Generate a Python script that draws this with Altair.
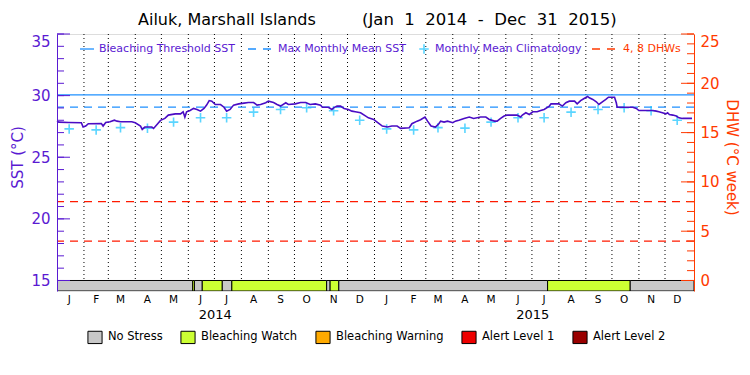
import altair as alt
import pandas as pd

# ---------------- data ----------------
TITLE_SITE = "Ailuk, Marshall Islands"
TITLE_RANGE = "(Jan 1 2014 - Dec 31 2015)"

# days since 2014-01-01 and SST (deg C)
SST_DAY = [0, 2, 13, 28, 30, 33, 36, 51, 53, 56, 61, 66, 69, 73, 86, 90, 96, 98, 101, 109,
           111, 115, 119, 124, 128, 136, 142, 145, 147, 149, 153, 157, 161, 165, 169, 172, 175,
           178, 182, 188, 192, 195, 199, 203, 209, 215, 220, 226, 230, 234, 240, 243, 249, 253,
           257, 263, 266, 274, 280, 286, 291, 297, 303, 305, 312, 316, 318, 322, 326, 330, 335,
           339, 343, 349, 355, 358, 364, 368, 374, 380, 385, 391, 395, 405, 408, 414, 418, 423,
           426, 430, 435, 439, 441, 445, 449, 455, 458, 462, 468, 474, 479, 487, 493, 497, 503,
           506, 510, 514, 518, 529, 533, 535, 539, 543, 547, 552, 556, 560, 566, 568, 577, 581,
           585, 589, 595, 598, 602, 606, 610, 612, 616, 620, 623, 627, 631, 634, 641, 643, 644,
           662, 666, 669, 685, 689, 692, 696, 700, 702, 704, 708, 712, 715, 719, 730]
SST_VAL = [27.93, 27.85, 27.82, 27.80, 27.45, 27.53, 27.72, 27.74, 27.53, 27.82, 27.88, 28.01,
           27.93, 27.88, 27.88, 27.80, 27.53, 27.26, 27.45, 27.45, 27.34, 27.66, 27.99, 28.15,
           28.42, 28.52, 28.52, 28.69, 28.26, 28.69, 28.79, 28.96, 28.88, 28.74, 28.96, 29.23,
           29.60, 29.55, 29.28, 29.28, 29.06, 28.74, 28.88, 29.23, 29.33, 29.39, 29.44, 29.44,
           29.23, 29.28, 29.42, 29.55, 29.44, 29.28, 29.15, 29.42, 29.28, 29.33, 29.44, 29.44,
           29.28, 29.33, 29.23, 29.06, 29.06, 28.88, 29.01, 29.15, 29.15, 28.96, 28.88, 28.74,
           28.69, 28.61, 28.34, 28.20, 28.07, 27.85, 27.53, 27.45, 27.53, 27.53, 27.34, 27.39,
           27.72, 27.93, 28.04, 28.26, 27.93, 27.53, 27.45, 27.72, 27.93, 27.85, 27.93, 27.80,
           27.93, 28.01, 28.15, 28.26, 28.15, 28.26, 28.26, 28.07, 27.93, 27.93, 28.15, 28.34,
           28.42, 28.42, 28.26, 28.42, 28.61, 28.47, 28.69, 28.69, 28.79, 28.88, 29.15, 29.33,
           29.33, 29.15, 29.42, 29.55, 29.55, 29.33, 29.60, 29.77, 29.93, 29.82, 29.69, 29.50,
           29.28, 29.50, 29.69, 29.87, 29.87, 29.42, 29.06, 29.06, 28.96, 28.79, 28.79, 28.74,
           28.69, 28.61, 28.52, 28.61, 28.47, 28.42, 28.34, 28.20, 28.15, 28.15]

CLIM_VAL = [27.30, 27.22, 27.40, 27.36, 27.85, 28.20, 28.20, 28.66, 28.88, 29.01, 28.77, 28.00]
YEARS = [2014, 2015]
MONTH_LETTERS = ["J", "F", "M", "A", "M", "J", "J", "A", "S", "O", "N", "D"]
THRESHOLD = 30.06
MMM = 29.06
DHW_LEVELS = [4, 8]

STRESS_START = ["2014-01-01", "2014-06-06", "2014-06-08", "2014-06-17", "2014-07-10",
                "2014-07-21", "2014-11-07", "2014-11-11", "2014-11-21", "2015-07-19",
                "2015-10-22"]
STRESS_END = ["2014-06-06", "2014-06-08", "2014-06-17", "2014-07-10", "2014-07-21",
              "2014-11-07", "2014-11-11", "2014-11-21", "2015-07-19", "2015-10-22",
              "2016-01-03T08:00:00Z"]
STRESS_LEVEL = ["No Stress", "Bleaching Watch", "No Stress", "Bleaching Watch", "No Stress",
                "Bleaching Watch", "No Stress", "Bleaching Watch", "No Stress",
                "Bleaching Watch", "No Stress"]
STRESS_CATS = ["No Stress", "Bleaching Watch", "Bleaching Warning", "Alert Level 1", "Alert Level 2"]
STRESS_COLORS = ["#c8c8c8", "#ccff33", "#ffaa00", "#ee0000", "#990000"]

SST_TICKS = [15, 20, 25, 30, 35]
DHW_TICKS = [0, 5, 10, 15, 20, 25]
LEG_TEXT = ["Bleaching Threshold SST", "Max Monthly Mean SST", "Monthly Mean Climatology", "4, 8 DHWs"]

# ---------------- styling ----------------
FONT = "DejaVu Sans"
PURPLE = "#5a1ad2"
LINE_PURPLE = "#4a0cc4"
ORANGE = "#ff3a00"
BLUE = "#1e90ff"
CYAN = "#16c4ff"
RED = "#ff1a00"
W, H = 637, 257
CROSS = "M-1,0L1,0M0,-1L0,1"
NB = "\u00a0"

base_date = pd.Timestamp("2014-01-01")
sst_df = pd.DataFrame({
    "date": [(base_date + pd.Timedelta(days=d)).strftime("%Y-%m-%d") for d in SST_DAY],
    "sst": SST_VAL,
})
clim_df = pd.DataFrame({
    "date": [f"{y}-{m + 1:02d}-15" for y in YEARS for m in range(12)],
    "v": CLIM_VAL * len(YEARS),
    "lab": MONTH_LETTERS * len(YEARS),
})
month_start_df = pd.DataFrame({
    "date": [f"{y}-{m:02d}-01" for y in YEARS for m in range(1, 13)][1:],
})
year_df = pd.DataFrame({"date": [f"{y}-07-02" for y in YEARS], "lab": [str(y) for y in YEARS]})
stress_df = pd.DataFrame({"start": STRESS_START, "end": STRESS_END, "level": STRESS_LEVEL})
ref_df = pd.DataFrame({"thr": [THRESHOLD], "mmm": [MMM]})
dhw_df = pd.DataFrame({"v": DHW_LEVELS})
sst_tick_df = pd.DataFrame({"v": list(range(15, 36))})
dhw_tick_df = pd.DataFrame({"v": list(range(0, 26))})

Y_LO = 15 - 10.5 / 12.31
D_LO = -10.5 / 9.85
xs = alt.Scale(type="utc", domain=[alt.DateTime(year=2014, month=1, date=1, utc=True),
                                   alt.DateTime(year=2016, month=1, date=3, hours=8, utc=True)])
ysst = alt.Scale(domain=[Y_LO, 35], nice=False, zero=False)
ydhw = alt.Scale(domain=[D_LO, 25], nice=False, zero=False)

X = lambda f: alt.X(f"{f}:T", scale=xs, axis=None)

month_lines = alt.Chart(month_start_df).mark_rule(color="black", strokeWidth=1, strokeDash=[1, 3]).encode(
    x=X("date"), y=alt.Y(datum=35, scale=ysst, axis=None), y2=alt.Y2(datum=15))

dhw_lines = alt.Chart(dhw_df).mark_rule(color=RED, strokeWidth=1.2, strokeDash=[8, 6]).encode(
    y=alt.Y("v:Q", scale=ydhw, axis=alt.Axis(
        orient="right", values=DHW_TICKS, ticks=False, tickSize=0, grid=False,
        domainColor=ORANGE, domainWidth=1, labelColor=ORANGE, labelFont=FONT, labelFontSize=15,
        labelPadding=6, labelFlush=True, labelFlushOffset=0,
        title="DHW (°C week)", titleColor=ORANGE, titleFont=FONT, titleFontSize=15,
        titleFontWeight="normal", titleAngle=90, titleX=37, titleY=123,
        titleAlign="center", titleBaseline="middle", zindex=1)))

thr_line = alt.Chart(ref_df).mark_rule(color=BLUE, strokeWidth=1.3).encode(
    y=alt.Y("thr:Q", scale=ysst, axis=None))
mmm_line = alt.Chart(ref_df).mark_rule(color=BLUE, strokeWidth=1.3, strokeDash=[8, 6]).encode(
    y=alt.Y("mmm:Q", scale=ysst, axis=None))

clim = alt.Chart(clim_df).mark_point(shape=CROSS, size=90, color=CYAN, strokeWidth=1.6, filled=False).encode(
    x=X("date"), y=alt.Y("v:Q", scale=ysst, axis=None))

sst_line = alt.Chart(sst_df).mark_line(color=LINE_PURPLE, strokeWidth=1.6).encode(
    x=X("date"),
    y=alt.Y("sst:Q", scale=ysst, axis=alt.Axis(
        orient="left", values=SST_TICKS, ticks=False, tickSize=0, grid=False,
        domainColor=PURPLE, domainWidth=1, labelColor=PURPLE, labelFont=FONT, labelFontSize=15,
        labelPadding=7, labelFlush=True, labelFlushOffset=0,
        title="SST (°C)", titleColor=PURPLE, titleFont=FONT, titleFontSize=15,
        titleFontWeight="normal", titleAngle=-90, titleX=-40, titleY=123,
        titleAlign="center", titleBaseline="middle", zindex=1)))

stress = alt.Chart(stress_df).mark_rect(stroke="black", strokeWidth=1, clip=True).encode(
    x=X("start"), x2="end:T",
    y=alt.Y(datum=Y_LO, scale=ysst, axis=None), y2=alt.Y2(datum=15),
    color=alt.Color("level:N", scale=alt.Scale(domain=STRESS_CATS, range=STRESS_COLORS),
                    legend=alt.Legend(orient="none", legendX=30, legendY=295, direction="horizontal",
                                      title=None, symbolType="M-1,-0.87H1V0.87H-1Z", symbolSize=200,
                                      symbolStrokeColor="black", symbolStrokeWidth=1,
                                      labelFont=FONT, labelFontSize=11.5, labelColor="black",
                                      columnPadding=15, labelOffset=5, padding=0, labelLimit=300)))

sst_minor = alt.Chart(sst_tick_df).mark_rule(color=PURPLE, strokeWidth=1).encode(
    y=alt.Y("v:Q", scale=ysst, axis=None), x=alt.value(0), x2=alt.value(7))
sst_major = alt.Chart(pd.DataFrame({"v": SST_TICKS})).mark_rule(color=PURPLE, strokeWidth=1).encode(
    y=alt.Y("v:Q", scale=ysst, axis=None), x=alt.value(0), x2=alt.value(13))
dhw_minor = alt.Chart(dhw_tick_df).mark_rule(color=ORANGE, strokeWidth=1).encode(
    y=alt.Y("v:Q", scale=ydhw, axis=None), x=alt.value(W - 7), x2=alt.value(W))
dhw_major = alt.Chart(pd.DataFrame({"v": DHW_TICKS})).mark_rule(color=ORANGE, strokeWidth=1).encode(
    y=alt.Y("v:Q", scale=ydhw, axis=None), x=alt.value(W - 13), x2=alt.value(W))

month_labels = alt.Chart(clim_df).mark_text(font=FONT, fontSize=10.5, color="black", baseline="middle").encode(
    x=X("date"), y=alt.value(266), text="lab:N")
year_labels = alt.Chart(year_df).mark_text(font=FONT, fontSize=13, color="black", baseline="middle").encode(
    x=X("date"), y=alt.value(281), text="lab:N")


def txt(s, x, y, color, size, align="left"):
    return alt.Chart(pd.DataFrame({"t": [s]})).mark_text(
        font=FONT, fontSize=size, color=color, align=align, baseline="middle").encode(
        text="t:N", x=alt.value(x), y=alt.value(y))


def seg(x1, x2, y, color, dash=None):
    kw = dict(color=color, strokeWidth=1.3)
    if dash:
        kw["strokeDash"] = dash
    return alt.Chart(pd.DataFrame({"a": [0]})).mark_rule(**kw).encode(
        x=alt.value(x1), x2=alt.value(x2), y=alt.value(y))


LY = 15
legend_top = [
    seg(23, 37, LY, BLUE),
    txt(LEG_TEXT[0], 42, LY, PURPLE, 11),
    seg(191, 214, LY, BLUE, [8, 7]),
    txt(LEG_TEXT[1], 221, LY, PURPLE, 11),
    alt.Chart(pd.DataFrame({"a": [0]})).mark_point(shape=CROSS, size=90, color=CYAN, strokeWidth=1.6).encode(
        x=alt.value(367), y=alt.value(LY)),
    txt(LEG_TEXT[2], 378, LY, PURPLE, 11),
    seg(535, 558, LY, ORANGE, [8, 7]),
    txt(LEG_TEXT[3], 566, LY, ORANGE, 11),
]

# the reference's plotting font sets words widely apart: widen the gaps
titles = [
    txt(TITLE_SITE, 81, -14, "black", 16),
    txt(TITLE_RANGE.replace(" ", NB * 2), 305, -14, "black", 16.5),
]

chart = alt.layer(
    month_lines, dhw_lines, thr_line, mmm_line, clim, sst_line, stress,
    sst_minor, sst_major, dhw_minor, dhw_major, month_labels, year_labels,
    *legend_top, *titles,
).resolve_scale(y="independent").properties(
    width=W, height=H,
    autosize=alt.AutoSizeParams(type="none"),
    padding={"left": 49, "top": 26, "right": 48, "bottom": 76},
).configure_view(stroke="black", strokeWidth=1).configure(background="white")

chart.save("out.html", embed_options={"renderer": "svg", "actions": False})
